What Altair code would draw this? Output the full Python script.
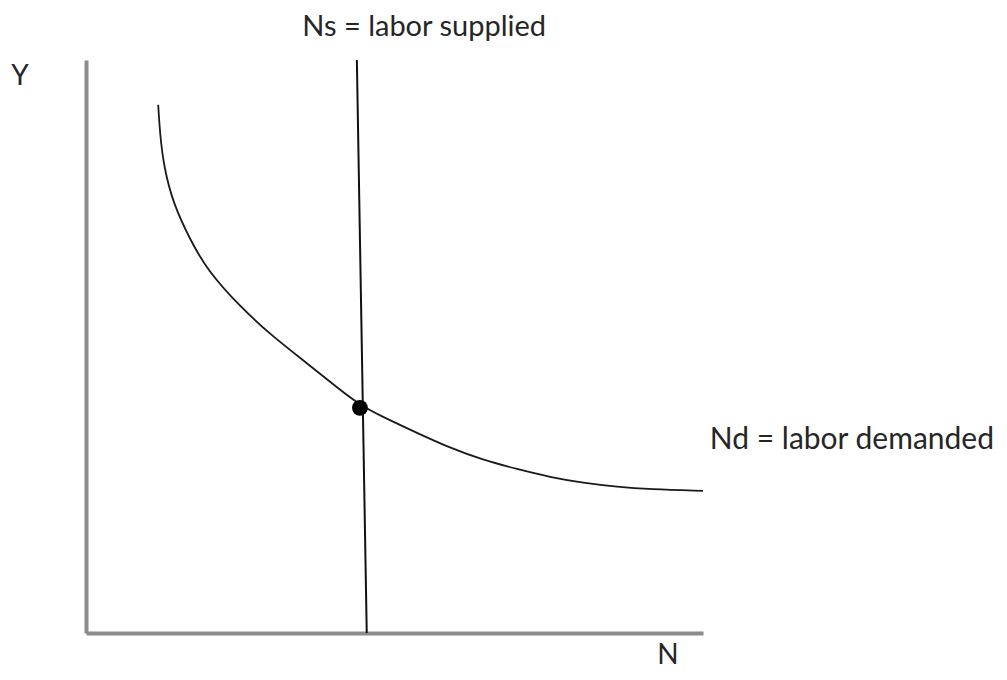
import altair as alt
import pandas as pd

# Labor demand curve (Nd)
nd_n = [1.17, 1.20, 1.26, 1.41, 1.69, 1.96, 2.50, 3.03, 3.58, 4.12, 4.44, 4.81, 5.37,
        5.90, 6.43, 6.99, 7.52, 8.06, 8.61, 9.14, 10.0]
nd_y = [9.22, 8.70, 8.15, 7.50, 6.86, 6.34, 5.69, 5.17, 4.71, 4.24, 3.98, 3.77, 3.49,
        3.23, 3.02, 2.86, 2.72, 2.62, 2.55, 2.51, 2.48]

# Labor supply line (Ns)
ns_n = [4.39, 4.55]
ns_y = [10.0, 0.0]

# Equilibrium point
eq_n = [4.44]
eq_y = [3.93]

# Labels
label_text = ["Ns = labor supplied", "Y", "N", "Nd = labor demanded"]
label_n = [5.48, -1.07, 9.43, 10.11]
label_y = [10.58, 9.70, -0.40, 3.37]
label_align = ["center", "center", "center", "left"]
label_size = [29, 28, 28, 30]

nd_df = pd.DataFrame({"N": nd_n, "Y": nd_y, "order": list(range(len(nd_n)))})
ns_df = pd.DataFrame({"N": ns_n, "Y": ns_y, "order": [0, 1]})
eq_df = pd.DataFrame({"N": eq_n, "Y": eq_y})
lab_df = pd.DataFrame({"text": label_text, "N": label_n, "Y": label_y,
                       "align": label_align, "size": label_size})

xs = alt.Scale(domain=[0, 10], nice=False, zero=False)
ys = alt.Scale(domain=[0, 10], nice=False, zero=False)

axis_style = dict(domain=True, domainColor="#8c8c8c", domainWidth=4, ticks=False,
                  labels=False, grid=False, title=None)

nd = alt.Chart(nd_df).mark_line(color="#1a1a1a", strokeWidth=1.8, interpolate="basis").encode(
    x=alt.X("N:Q", scale=xs, axis=alt.Axis(**axis_style)),
    y=alt.Y("Y:Q", scale=ys, axis=alt.Axis(**axis_style)),
    order="order:Q",
)

ns = alt.Chart(ns_df).mark_line(color="#111111", strokeWidth=2).encode(
    x=alt.X("N:Q", scale=xs),
    y=alt.Y("Y:Q", scale=ys),
    order="order:Q",
)

eq = alt.Chart(eq_df).mark_point(filled=True, color="#000000", size=250, opacity=1).encode(
    x=alt.X("N:Q", scale=xs),
    y=alt.Y("Y:Q", scale=ys),
)

def label_layer(align, size):
    sub = lab_df[(lab_df["align"] == align) & (lab_df["size"] == size)]
    return alt.Chart(sub).mark_text(
        font="Lato", fontSize=size, color="#262626", align=align, baseline="middle"
    ).encode(
        x=alt.X("N:Q", scale=xs),
        y=alt.Y("Y:Q", scale=ys),
        text="text:N",
    )

chart = alt.layer(
    nd, ns, eq,
    label_layer("center", 29), label_layer("center", 28), label_layer("left", 30)
).properties(
    width=617,
    height=573,
    padding={"left": 78, "top": 52, "right": 296, "bottom": 39},
    autosize=alt.AutoSizeParams(type="none"),
    background="white",
).configure_view(stroke=None)

chart.save("out.html", embed_options={"renderer": "svg", "actions": False})
